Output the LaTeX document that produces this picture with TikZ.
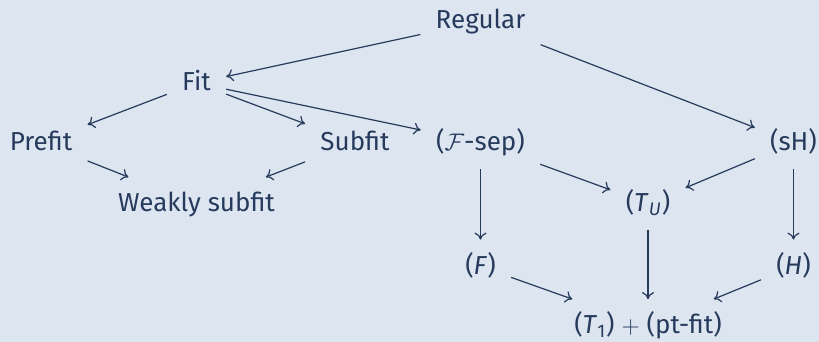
\documentclass[tikz,border=0pt]{standalone}
\usepackage{amsmath}
\usepackage{fontspec}
\setmainfont{Fira Sans}
\usetikzlibrary{arrows.meta}
\definecolor{bg}{HTML}{DDE5F1}
\definecolor{ink}{HTML}{263A5C}
\begin{document}
\begin{tikzpicture}[x=0.5pt,y=-0.5pt,
  cell/.style={font=\fontsize{13pt}{15pt}\selectfont, text=ink, anchor=base,
    text height=11pt, text depth=3.5pt, inner xsep=7.5pt, inner ysep=6pt},
  arr/.style={draw=ink, line width=0.6pt,
    -{Computer Modern Rightarrow[length=3.5pt,width=6pt]}}]
\fill[bg] (0,0) rectangle (819,342);
\useasboundingbox (0,0) rectangle (819,342);
\node[cell] (reg) at (480.5,29) {Regular};
\node[cell] (fit) at (196.5,90.5) {Fit};
\node[cell] (pre) at (41,150) {Prefit};
\node[cell] (sub) at (355,150) {Subfit};
\node[cell] (fsep) at (480.5,150) {($\mathcal{F}$-sep)};
\node[cell] (sh) at (793.5,150) {(sH)};
\node[cell] (weak) at (196.5,211.5) {Weakly subfit};
\node[cell] (tu) at (648,211) {(\textit{T}$_{\textit{U}}$)};
\node[cell] (f) at (480.5,274) {(\textit{F})};
\node[cell] (h) at (793.5,274) {(\textit{H})};
\node[cell] (t1) at (648,333.5) {(\textit{T}$_{\text{1}}$) $+$ (pt-fit)};
\draw[arr] (reg) -- (fit);
\draw[arr] (reg) -- (sh);
\draw[arr] (fit) -- (pre);
\draw[arr] (fit) -- (sub);
\draw[arr] (fit) -- (fsep);
\draw[arr] (pre) -- (weak);
\draw[arr] (sub) -- (weak);
\draw[arr] (fsep) -- (f);
\draw[arr] (fsep) -- (tu);
\draw[arr] (sh) -- (tu);
\draw[arr] (sh) -- (h);
\draw[arr] (tu) -- (t1);
\draw[arr] (f) -- (t1);
\draw[arr] (h) -- (t1);
\end{tikzpicture}
\end{document}
